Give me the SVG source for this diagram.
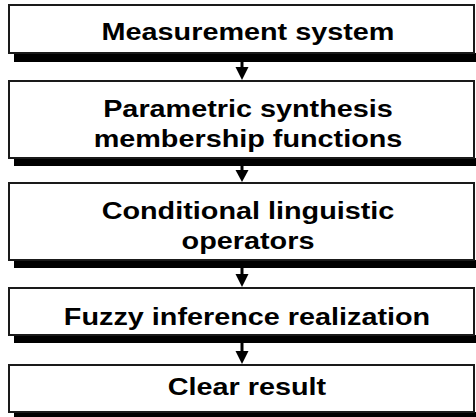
<svg xmlns="http://www.w3.org/2000/svg" width="476" height="417" viewBox="0 0 476 417">
<style>
.box{fill:#fff;stroke:#1a1a1a;stroke-width:2}
.sh{fill:#000}
.t{font-family:"Liberation Sans",Arial,sans-serif;font-weight:bold;font-size:24px;fill:#000;text-anchor:middle}
.ln{stroke:#000;stroke-width:3}
.ah{fill:#000}
</style>
<rect width="476" height="417" fill="#fff"/>
<g id="connectors">
<line class="ln" x1="242" y1="60" x2="242" y2="69"/><polygon class="ah" points="235.5,67 248.5,67 242,80"/>
<line class="ln" x1="242" y1="164" x2="242" y2="172"/><polygon class="ah" points="235.5,170 248.5,170 242,182"/>
<line class="ln" x1="242" y1="266" x2="242" y2="276"/><polygon class="ah" points="235.5,274 248.5,274 242,287"/>
<line class="ln" x1="242" y1="341" x2="242" y2="353"/><polygon class="ah" points="235.5,351 248.5,351 242,364"/>
</g>
<g id="n1">
<rect class="sh" x="14" y="53" width="470" height="9"/>
<rect class="box" x="9" y="5" width="465" height="48"/>
<text class="t" transform="translate(248,40) scale(1.2,1)">Measurement system</text>
</g>
<g id="n2">
<rect class="sh" x="14" y="158" width="470" height="8"/>
<rect class="box" x="9" y="81" width="465" height="77"/>
<text class="t" transform="translate(248,117) scale(1.2,1)">Parametric synthesis</text>
<text class="t" transform="translate(248,147) scale(1.2,1)">membership functions</text>
</g>
<g id="n3">
<rect class="sh" x="14" y="260" width="470" height="8"/>
<rect class="box" x="9" y="183" width="465" height="77"/>
<text class="t" transform="translate(248,219) scale(1.2,1)">Conditional linguistic</text>
<text class="t" transform="translate(248,249) scale(1.2,1)">operators</text>
</g>
<g id="n4">
<rect class="sh" x="14" y="335" width="470" height="8"/>
<rect class="box" x="9" y="288" width="465" height="47"/>
<text class="t" transform="translate(247,325) scale(1.2,1)">Fuzzy inference realization</text>
</g>
<g id="n5">
<rect class="sh" x="14" y="412" width="470" height="8"/>
<rect class="box" x="9" y="365" width="465" height="47"/>
<text class="t" transform="translate(247,395) scale(1.2,1)">Clear result</text>
</g>
</svg>
